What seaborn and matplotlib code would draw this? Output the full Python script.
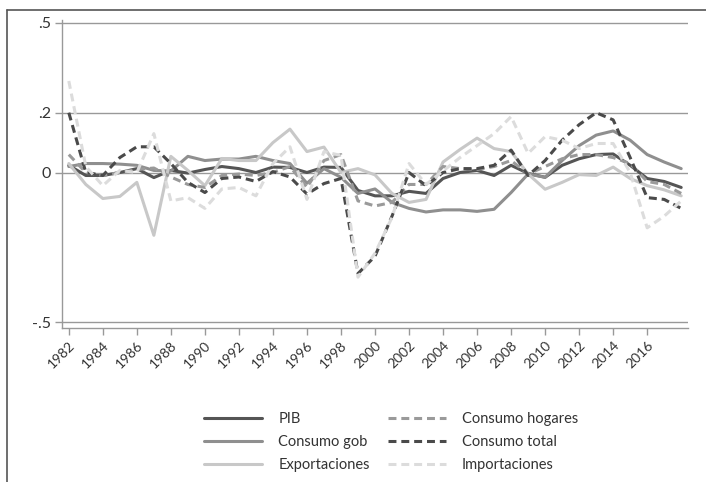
import numpy as np
import pandas as pd
import matplotlib
matplotlib.use("Agg")
import matplotlib.pyplot as plt
import seaborn as sns
from matplotlib.lines import Line2D

years = list(range(1982, 2019))

pib = [0.024, -0.010, -0.010, 0.000, 0.013, -0.017, 0.007, -0.002, 0.010, 0.020,
       0.013, 0.000, 0.018, 0.017, 0.000, 0.018, 0.017, -0.060, -0.078, -0.078,
       -0.063, -0.070, -0.020, 0.000, 0.007, -0.010, 0.024, -0.003, -0.016, 0.024,
       0.046, 0.060, 0.062, 0.024, -0.020, -0.030, -0.050]
consumo_gob = [0.020, 0.030, 0.030, 0.028, 0.024, 0.007, 0.005, 0.054, 0.040, 0.045,
               0.045, 0.054, 0.040, 0.030, -0.036, 0.013, -0.016, -0.070, -0.055, -0.100,
               -0.120, -0.132, -0.125, -0.125, -0.130, -0.123, -0.067, -0.005, -0.016, 0.040,
               0.090, 0.125, 0.139, 0.108, 0.060, 0.035, 0.013]
exportaciones = [0.030, -0.040, -0.087, -0.080, -0.033, -0.210, 0.054, 0.007, -0.044, 0.047,
                 0.040, 0.040, 0.100, 0.145, 0.070, 0.085, 0.000, 0.013, -0.008, -0.070,
                 -0.100, -0.090, 0.035, 0.077, 0.115, 0.080, 0.070, -0.005, -0.056, -0.033,
                 -0.007, -0.010, 0.018, -0.020, -0.044, -0.058, -0.078]
consumo_hogares = [0.060, 0.000, -0.010, 0.000, 0.010, 0.015, -0.015, -0.040, -0.050, -0.010,
                   -0.005, -0.010, 0.000, 0.020, -0.050, 0.040, 0.060, -0.095, -0.112, -0.100,
                   -0.040, -0.040, 0.020, 0.013, 0.010, 0.020, 0.040, -0.005, 0.020, 0.046,
                   0.060, 0.060, 0.050, 0.030, -0.030, -0.040, -0.070]
consumo_total = [0.200, 0.000, -0.010, 0.050, 0.086, 0.086, 0.030, -0.033, -0.067, -0.020,
                 -0.015, -0.030, 0.003, -0.015, -0.072, -0.037, -0.020, -0.338, -0.280, -0.146,
                 0.000, -0.044, 0.000, 0.013, 0.013, 0.024, 0.075, -0.010, 0.040, 0.108,
                 0.160, 0.200, 0.176, 0.050, -0.084, -0.090, -0.120]
importaciones = [0.306, 0.020, -0.044, 0.007, 0.000, 0.130, -0.095, -0.084, -0.120, -0.055,
                 -0.050, -0.078, 0.030, 0.086, -0.090, 0.070, 0.057, -0.350, -0.270, -0.150,
                 0.030, -0.040, 0.005, 0.050, 0.090, 0.130, 0.187, 0.064, 0.120, 0.108,
                 0.080, 0.097, 0.097, 0.000, -0.185, -0.146, -0.095]

series_names = ["PIB", "Consumo gob", "Exportaciones",
                "Consumo hogares", "Consumo total", "Importaciones"]
series_values = [pib, consumo_gob, exportaciones,
                 consumo_hogares, consumo_total, importaciones]
xtick_labels = [str(y) for y in range(1982, 2017, 2)]
ytick_values = [-0.5, 0, 0.2, 0.5]
ytick_labels = ["-.5", "0", ".2", ".5"]

colors = ["#555555", "#8f8f8f", "#c8c8c8", "#9a9a9a", "#4a4a4a", "#dcdcdc"]
styles = ["-", "-", "-", "--", "--", "--"]

sns.set_theme(style="white")
plt.rcParams['font.family'] = ['Lato', 'DejaVu Sans']

fig = plt.figure(figsize=(7.06, 4.82), dpi=100)
W, H = 706, 482
ax = fig.add_axes([62 / W, 1 - 328 / H, (688 - 62) / W, (328 - 20) / H])

lw = 2.2
for name, vals, c, ls in zip(series_names, series_values, colors, styles):
    df = pd.DataFrame({"year": years, "value": vals})
    sns.lineplot(data=df, x="year", y="value", ax=ax, color=c, linewidth=lw,
                 label=name, legend=False)
    line = ax.lines[-1]
    if ls == "--":
        line.set_dashes((2.6, 1.6))

ax.set_xlim(1981.6, 2018.4)
ax.set_ylim(-0.52, 0.51)
ax.set_xticks(list(range(1982, 2017, 2)))
ax.set_xticklabels(xtick_labels, rotation=45, ha="right", rotation_mode="anchor",
                   fontsize=10, color="#333333")
ax.set_yticks(ytick_values)
ax.set_yticklabels(ytick_labels, fontsize=11.5, color="#333333")
ax.set_xlabel("")
ax.set_ylabel("")
for y in ytick_values:
    ax.axhline(y, color="#999999", linewidth=1.0, zorder=0)
for s in ["top", "right"]:
    ax.spines[s].set_visible(False)
for s in ["left", "bottom"]:
    ax.spines[s].set_color("#999999")
    ax.spines[s].set_linewidth(1.0)
ax.tick_params(axis="both", which="both", length=5, width=1, color="#999999",
               left=True, bottom=True, pad=3)

handles = []
for name, c, ls in zip(series_names, colors, styles):
    h = Line2D([0], [0], color=c, linewidth=lw)
    if ls == "--":
        h.set_dashes((2.6, 1.6))
    handles.append(h)
leg = fig.legend(handles=handles, labels=series_names, ncol=2,
                 loc="upper left", bbox_to_anchor=(191 / W, 1 - 399 / H),
                 frameon=False, fontsize=10.5, handlelength=4.0,
                 handletextpad=1.1, columnspacing=1.2, labelspacing=0.6)
for t in leg.get_texts():
    t.set_color("#333333")

# outer frame (clipped)
fig.add_artist(Line2D([7 / W, 7 / W], [0, 1 - 10 / H], transform=fig.transFigure,
                      color="#555555", linewidth=1.2))
fig.add_artist(Line2D([7 / W, 1], [1 - 10 / H, 1 - 10 / H], transform=fig.transFigure,
                      color="#555555", linewidth=1.2))

fig.savefig("out.png", dpi=100)
